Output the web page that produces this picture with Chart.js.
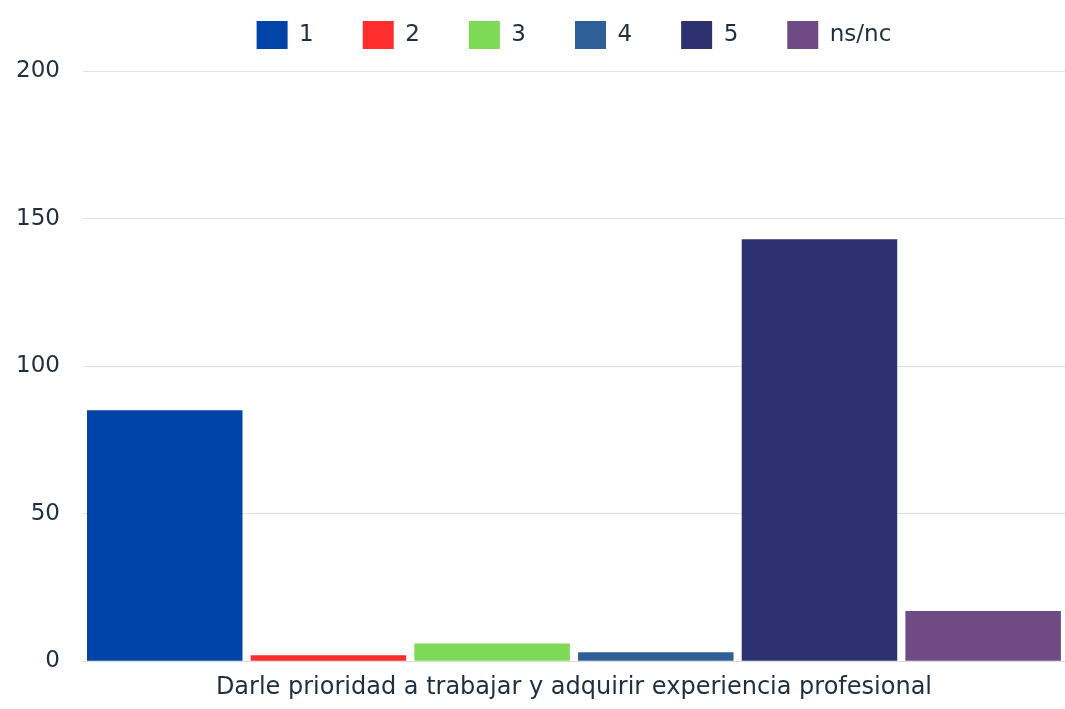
<!DOCTYPE html>
<html>
<head>
<meta charset="utf-8">
<script src="https://cdn.jsdelivr.net/npm/chart.js@4/dist/chart.umd.min.js"></script>
<style>
  html, body { margin: 0; padding: 0; background: #fff; }
  #wrap { width: 1065px; height: 709px; }
</style>
</head>
<body>
<div id="wrap"><canvas id="chart"></canvas></div>
<script>
// data
const categories = ["Darle prioridad a trabajar y adquirir experiencia profesional"]
const seriesLabels = ["1", "2", "3", "4", "5", "ns/nc"]
const seriesValues = [85, 2, 6, 3, 143, 17]
const seriesColors = ["#0044a8", "#ff2d2d", "#7ed957", "#2e5f96", "#2e316f", "#6f4a85"]
const yTicks = [0, 50, 100, 150, 200]

const textColor = "#1f2f3f"
const fontFamily = "'DejaVu Sans', 'Noto Sans', sans-serif"

const datasets = seriesLabels.map((label, i) => ({
    label: label,
    data: [seriesValues[i]],
    backgroundColor: seriesColors[i],
    borderWidth: 0,
    barPercentage: 0.95,
    categoryPercentage: 1
}))

// more room under the legend, and legend centred over the plot area
const legendTweak = {
    id: "legendTweak",
    beforeInit(chart) {
        const fit = chart.legend.fit
        chart.legend.fit = function () {
            fit.call(this)
            this.height += 12
        }
    },
    afterUpdate(chart) {
        chart.legend.left = chart.chartArea.left
    }
}

new Chart(document.getElementById("chart"), {
    type: "bar",
    data: { labels: categories, datasets: datasets },
    plugins: [legendTweak],
    options: {
        responsive: true,
        maintainAspectRatio: false,
        animation: false,
        layout: { padding: { top: -28, right: 0, left: -7, bottom: 3 } },
        plugins: {
            tooltip: { enabled: false },
            legend: {
                position: "top",
                labels: {
                    color: textColor,
                    boxWidth: 31,
                    boxHeight: 28,
                    padding: 49,
                    font: { family: fontFamily, size: 23 }
                }
            }
        },
        scales: {
            x: {
                grid: { display: false },
                border: { color: "#dcdcdc" },
                ticks: {
                    color: textColor,
                    padding: 4,
                    font: { family: fontFamily, size: 24 }
                }
            },
            y: {
                min: 0,
                max: 200,
                afterBuildTicks: (axis) => { axis.ticks = yTicks.map(v => ({ value: v })) },
                grid: { color: "#e2e2e2", drawTicks: false },
                border: { display: false },
                ticks: {
                    color: textColor,
                    padding: 23,
                    font: { family: fontFamily, size: 23 }
                }
            }
        }
    }
})
</script>
</body>
</html>
